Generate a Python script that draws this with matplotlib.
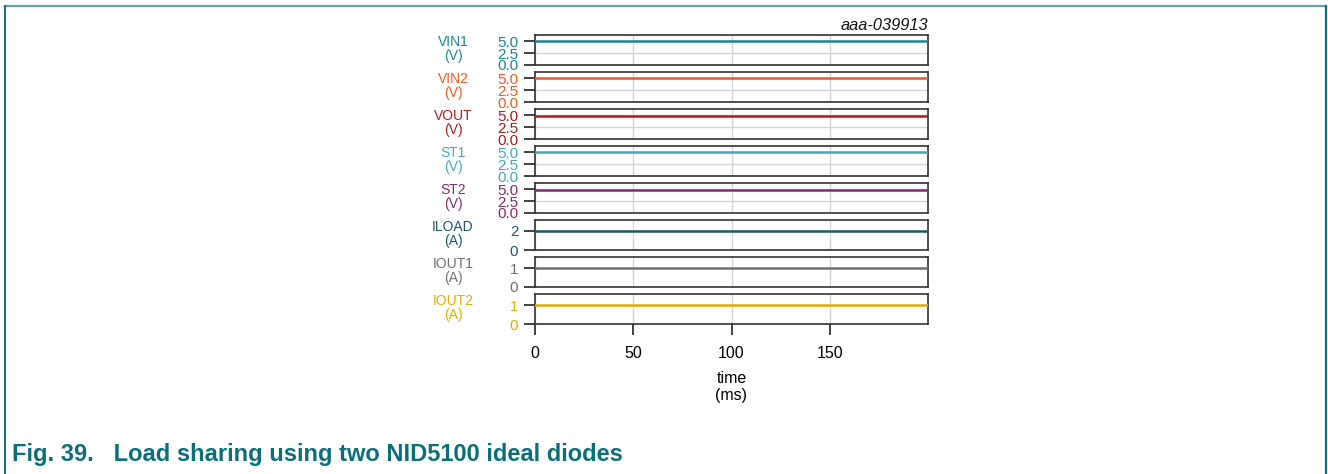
import matplotlib
matplotlib.use("Agg")
import matplotlib.pyplot as plt
from matplotlib.lines import Line2D

plt.rcParams['font.family'] = ['Liberation Sans', 'DejaVu Sans']

# data (all signals flat over 0..200 ms)
time_ms = [0, 200]
vin1 = [5.0, 5.0]
vin2 = [5.0, 5.0]
vout = [4.9, 4.9]
st1 = [5.0, 5.0]
st2 = [4.9, 4.9]
iload = [2.0, 2.0]
iout1 = [1.0, 1.0]
iout2 = [1.0, 1.0]

names = ["VIN1", "VIN2", "VOUT", "ST1", "ST2", "ILOAD", "IOUT1", "IOUT2"]
units = ["V", "V", "V", "V", "V", "A", "A", "A"]
series = [vin1, vin2, vout, st1, st2, iload, iout1, iout2]
colors = ["#1f8490", "#f05a28", "#b01c1c", "#4aa6b8", "#8a2b63",
          "#1d5866", "#707070", "#e0ae00"]
yticks = [[0, 2.5, 5], [0, 2.5, 5], [0, 2.5, 5], [0, 2.5, 5], [0, 2.5, 5],
          [0, 2], [0, 1], [0, 1]]
ylims = [(0, 6.3)] * 5 + [(0, 3.15), (0, 1.58), (0, 1.58)]
xticks = [0, 50, 100, 150]

W, H = 1328, 474
fig = plt.figure(figsize=(W / 100, H / 100), dpi=100)

left_px, right_px = 535, 928
top0, panel_h, step = 35, 30, 37

for i, name in enumerate(names):
    top = top0 + i * step
    ax = fig.add_axes([left_px / W, 1 - (top + panel_h) / H,
                       (right_px - left_px) / W, panel_h / H])
    ax.plot(time_ms, series[i], color=colors[i], lw=1.8, zorder=3)
    ax.set_xlim(0, 200)
    ax.set_ylim(*ylims[i])
    ax.set_xticks(xticks)
    ax.set_yticks(yticks[i])
    if units[i] == "V":
        ax.set_yticklabels([f"{v:.1f}" for v in yticks[i]])
    ax.grid(True, color="#d4d4d4", lw=1.0, zorder=0)
    for sp in ax.spines.values():
        sp.set_color("#333333")
        sp.set_linewidth(1.2)
    ax.tick_params(axis='y', direction='out', length=8, width=1.2, color="#222222",
                   labelcolor=colors[i], labelsize=11, pad=4)
    if i < len(names) - 1:
        ax.tick_params(axis='x', length=0, labelbottom=False)
    else:
        ax.tick_params(axis='x', direction='out', length=8, width=1.2,
                       color="#222222", labelsize=11.5, pad=8)
        ax.set_xlabel("time\n(ms)", fontsize=11.5, labelpad=7, linespacing=1.2)
    fig.text(453 / W, 1 - (top + panel_h / 2 - 1) / H, f"{name}\n({units[i]})",
             color=colors[i], ha='center', va='center', fontsize=10,
             linespacing=1.05)

fig.text(928 / W, 1 - 25 / H, "aaa-039913", ha='right', va='center',
         fontsize=11.8, style='italic', color="#111111")

fig.text(12 / W, 1 - 455 / H, "Fig. 39.   Load sharing using two NID5100 ideal diodes",
         ha='left', va='center', fontsize=17, fontweight='bold', color="#0b6f7a")

# document frame
fig.add_artist(Line2D([5 / W, 1326 / W], [1 - 6 / H, 1 - 6 / H],
                      transform=fig.transFigure, color="#5faab0", lw=1.6))
fig.add_artist(Line2D([5 / W, 5 / W], [1 - 6 / H, 0],
                      transform=fig.transFigure, color="#0b6f7a", lw=1.4))
fig.add_artist(Line2D([1326 / W, 1326 / W], [1 - 6 / H, 0],
                      transform=fig.transFigure, color="#0b6f7a", lw=1.6))

fig.savefig("out.png", dpi=100)
